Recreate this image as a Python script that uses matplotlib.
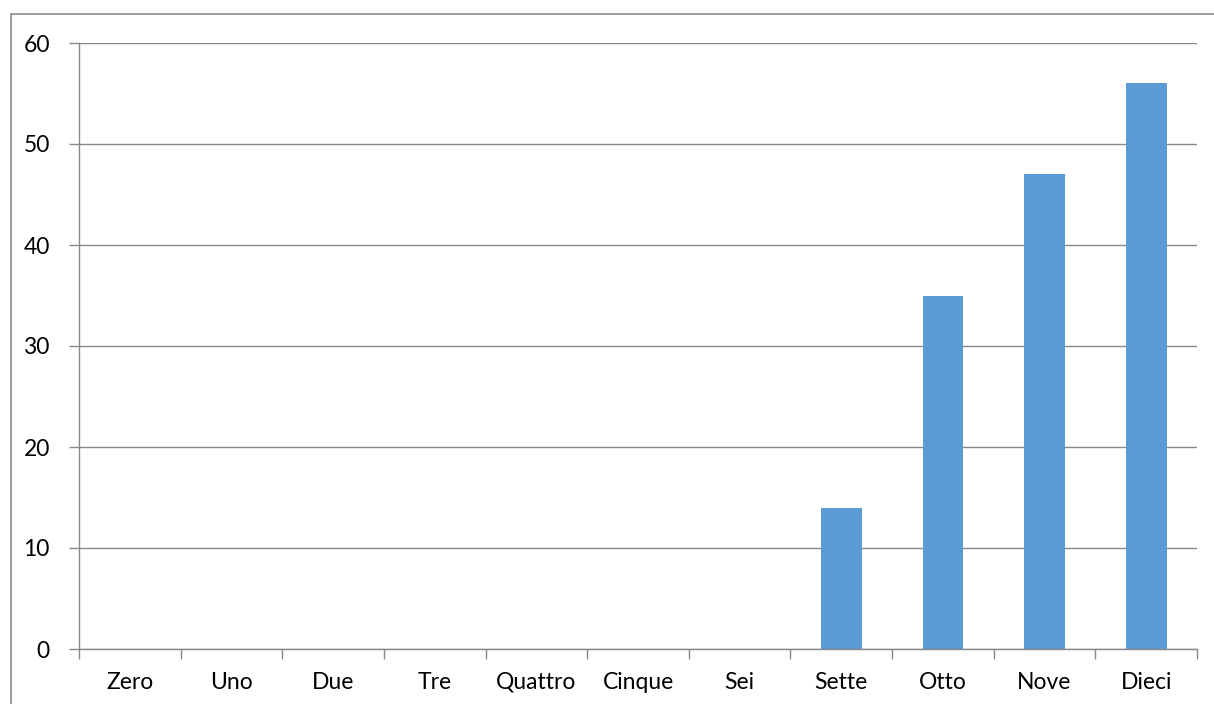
import matplotlib
matplotlib.use("Agg")
import matplotlib.pyplot as plt
from matplotlib.patches import Rectangle
from matplotlib.ticker import FixedLocator, NullFormatter

categories = ["Zero", "Uno", "Due", "Tre", "Quattro", "Cinque", "Sei",
              "Sette", "Otto", "Nove", "Dieci"]
values = [0, 0, 0, 0, 0, 0, 0, 14, 35, 47, 56]
yticks = [0, 10, 20, 30, 40, 50, 60]

plt.rcParams['font.family'] = ['Lato', 'DejaVu Sans']

W, H = 1214, 704
fig = plt.figure(figsize=(W / 100, H / 100), dpi=100)
ax = fig.add_axes([79 / W, 1 - 649 / H, (1197 - 79) / W, (649 - 43) / H])

grid_c = "#898989"
x = list(range(len(categories)))
ax.bar(x, values, width=0.4, color="#5B9BD5", zorder=3)

ax.set_xlim(-0.5, len(categories) - 0.5)
ax.set_ylim(0, 60)
ax.set_yticks(yticks)
ax.set_yticklabels([str(t) for t in yticks], fontsize=16.5)
ax.yaxis.grid(True, color=grid_c, linewidth=1, zorder=0)
ax.tick_params(axis='y', length=7, color=grid_c, width=1, pad=14)

# major ticks at category boundaries, labels at centers
ax.xaxis.set_major_locator(FixedLocator([i - 0.5 for i in range(len(categories) + 1)]))
ax.xaxis.set_major_formatter(NullFormatter())
ax.xaxis.set_minor_locator(FixedLocator(x))
ax.set_xticklabels(categories, minor=True, fontsize=16.5, va='baseline')
ax.tick_params(axis='x', which='minor', length=0, pad=28.5)
ax.tick_params(axis='x', which='major', length=7, color=grid_c, width=1)

for s in ["top", "right"]:
    ax.spines[s].set_visible(False)
for s in ["left", "bottom"]:
    ax.spines[s].set_color(grid_c)
    ax.spines[s].set_linewidth(1)
    ax.spines[s].set_zorder(4)

# outer chart-area border (extends beyond right and bottom)
fig.patches.append(Rectangle((10.5 / W, -0.1), 1.2, (1 - 13.5 / H) + 0.1,
                             transform=fig.transFigure, fill=False,
                             edgecolor="#8c8c8c", linewidth=1.2))

fig.savefig("out.png", dpi=100)
